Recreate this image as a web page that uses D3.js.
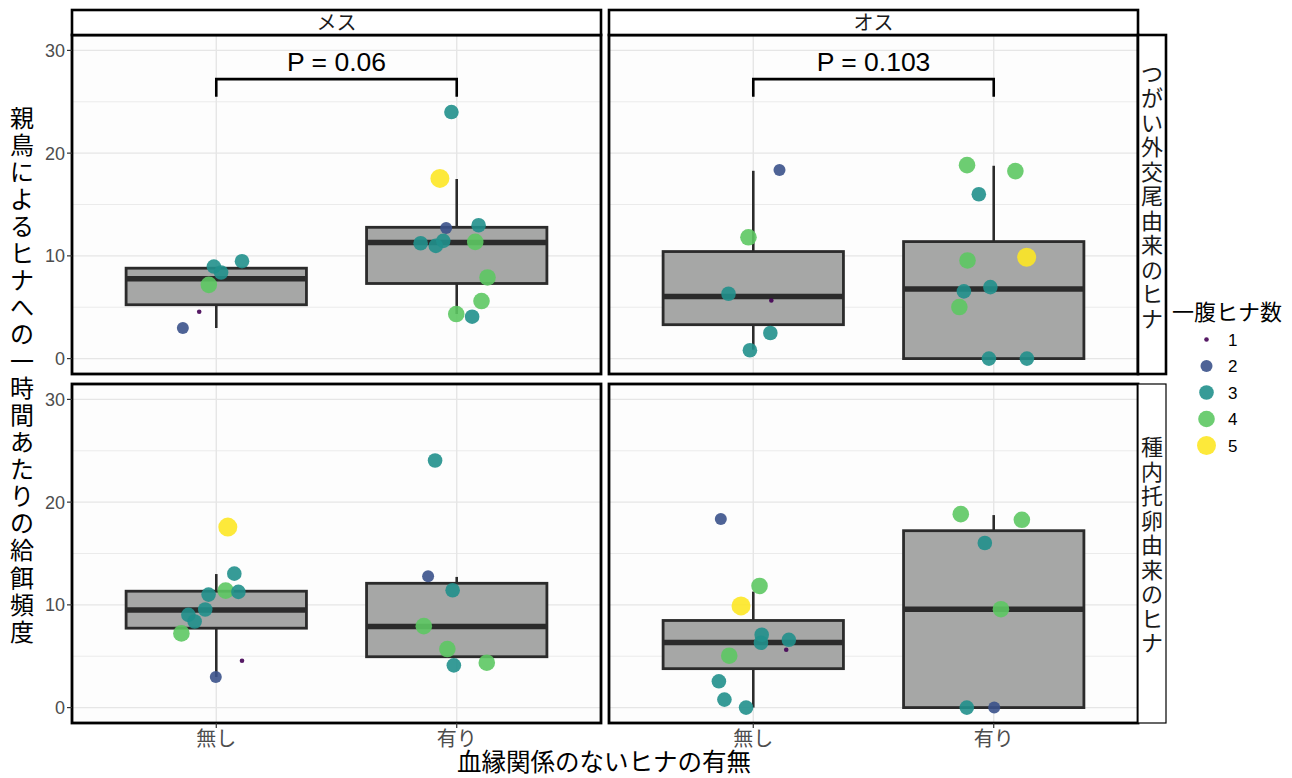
<!DOCTYPE html>
<html>
<head>
<meta charset="utf-8">
<script src="https://cdn.jsdelivr.net/npm/d3@7"></script>
<style>
  html, body { margin: 0; padding: 0; background: #ffffff; }
  svg { display: block; }
  text { font-family: "Liberation Sans", "Noto Sans CJK JP", sans-serif; }
  .jp { font-family: "Noto Sans CJK JP", "Liberation Sans", sans-serif; }
</style>
</head>
<body>
<div id="chart"></div>
<script>
// columns / rows of the facet grid
const sexes = ["メス", "オス"];
const origins = ["つがい外交尾由来のヒナ", "種内托卵由来のヒナ"];
const groups = ["無し", "有り"];
const yTicks = [0, 10, 20, 30];
const yMinor = [5, 15, 25];
const broodSizes = [1, 2, 3, 4, 5];
const pLabels = ["P = 0.06", "P = 0.103"];

// box stats per panel: [group, lower, q1, median, q3, upper]
const boxFemaleEpc = [["無し", 2.98, 5.24, 7.77, 8.8, 8.8], ["有り", 4.34, 7.31, 11.3, 12.78, 17.48]];
const boxMaleEpc = [["無し", 0.87, 3.3, 6.05, 10.42, 18.28], ["有り", 0, 0, 6.77, 11.39, 18.77]];
const boxFemaleCbp = [["無し", 2.98, 7.73, 9.51, 11.33, 13.0], ["有り", 4.95, 4.95, 7.9, 12.1, 12.72]];
const boxMaleCbp = [["無し", 0, 3.79, 6.34, 8.48, 11.29], ["有り", 0, 0, 9.58, 17.22, 18.74]];

// points per panel: [group, jitter (category units), feeding rate, brood size]
const ptsFemaleEpc = [
  ["無し", -0.01, 8.96, 3], ["無し", 0.02, 8.38, 3], ["無し", 0.107, 9.48, 3], ["無し", -0.031, 7.18, 4],
  ["無し", -0.071, 4.56, 1], ["無し", -0.139, 2.98, 2],
  ["有り", -0.022, 24.0, 3], ["有り", -0.07, 17.54, 5], ["有り", -0.044, 12.72, 2], ["有り", 0.091, 12.98, 3],
  ["有り", -0.15, 11.23, 3], ["有り", -0.087, 10.97, 3], ["有り", -0.056, 11.46, 3], ["有り", 0.077, 11.36, 4],
  ["有り", 0.128, 7.9, 4], ["有り", 0.103, 5.6, 4], ["有り", -0.002, 4.34, 4], ["有り", 0.064, 4.08, 3]
];
const ptsMaleEpc = [
  ["無し", 0.109, 18.35, 2], ["無し", -0.02, 11.81, 4], ["無し", -0.103, 6.31, 3], ["無し", 0.075, 5.66, 1],
  ["無し", 0.071, 2.49, 3], ["無し", -0.014, 0.81, 3],
  ["有り", -0.111, 18.83, 4], ["有り", 0.09, 18.25, 4], ["有り", -0.062, 16.0, 3], ["有り", 0.137, 9.87, 5],
  ["有り", -0.109, 9.55, 4], ["有り", -0.014, 6.96, 3], ["有り", -0.124, 6.54, 3], ["有り", -0.143, 5.02, 4],
  ["有り", -0.02, 0, 3], ["有り", 0.138, 0, 3]
];
const ptsFemaleCbp = [
  ["無し", 0.048, 17.57, 5], ["無し", 0.075, 13.04, 3], ["無し", 0.039, 11.39, 4], ["無し", 0.092, 11.26, 3],
  ["無し", -0.032, 11.0, 3], ["無し", -0.046, 9.55, 3], ["無し", -0.116, 9.03, 3], ["無し", -0.09, 8.38, 3],
  ["無し", -0.145, 7.22, 4], ["無し", 0.107, 4.56, 1], ["無し", -0.002, 2.98, 2],
  ["有り", -0.09, 24.05, 3], ["有り", -0.119, 12.78, 2], ["有り", -0.017, 11.42, 3], ["有り", -0.137, 7.93, 4],
  ["有り", -0.039, 5.7, 4], ["有り", -0.012, 4.11, 3], ["有り", 0.125, 4.37, 4]
];
const ptsMaleCbp = [
  ["無し", -0.135, 18.35, 2], ["無し", 0.026, 11.84, 4], ["無し", -0.051, 9.9, 5], ["無し", 0.035, 7.09, 3],
  ["無し", 0.032, 6.31, 3], ["無し", 0.148, 6.6, 3], ["無し", 0.137, 5.63, 1], ["無し", -0.1, 5.05, 4],
  ["無し", -0.143, 2.56, 3], ["無し", -0.12, 0.78, 3], ["無し", -0.03, 0, 3],
  ["有り", -0.137, 18.83, 4], ["有り", 0.117, 18.28, 4], ["有り", -0.037, 16.02, 3], ["有り", 0.03, 9.58, 4],
  ["有り", -0.112, 0, 3], ["有り", 0.002, 0, 2]
];

const panels = [
  { col: 0, row: 0, box: boxFemaleEpc, pts: ptsFemaleEpc, p: pLabels[0] },
  { col: 1, row: 0, box: boxMaleEpc, pts: ptsMaleEpc, p: pLabels[1] },
  { col: 0, row: 1, box: boxFemaleCbp, pts: ptsFemaleCbp, p: null },
  { col: 1, row: 1, box: boxMaleCbp, pts: ptsMaleCbp, p: null }
];

const width = 1292, height = 778;
const colX = [72, 609];
const rowY = [35, 384];
const panelW = 529, panelH = 339;

const color = d3.scaleOrdinal().domain(broodSizes)
  .range(["#440154", "#3B528B", "#21908C", "#5DC863", "#FDE725"]);
const radius = d3.scaleOrdinal().domain(broodSizes).range([2.3, 6, 7.3, 8.3, 9.5]);

const svg = d3.select("#chart").append("svg")
  .attr("width", width).attr("height", height);

const xPos = d3.scaleLinear().domain([0.4, 2.6]).range([0, panelW]);
const xIdx = g => groups.indexOf(g) + 1;
const y = d3.scaleLinear().domain([-1.5, 31.5]).range([panelH, 0]);

// vertical label: one upright character per line
function verticalText(x, yCenter, str, size, step, fill) {
  const chars = Array.from(str);
  const start = yCenter - (chars.length - 1) * step / 2;
  const t = svg.append("text").attr("class", "jp")
    .attr("text-anchor", "middle").attr("font-size", size).attr("fill", fill);
  t.selectAll("tspan").data(chars).enter().append("tspan")
    .attr("x", x).attr("y", (d, k) => start + k * step).attr("dy", "0.36em")
    .text(d => d);
}

panels.forEach(pn => {
  const g = svg.append("g")
    .attr("transform", `translate(${colX[pn.col]},${rowY[pn.row]})`);

  g.append("rect").attr("width", panelW).attr("height", panelH).attr("fill", "#fdfdfd");

  g.selectAll(".minor").data(yMinor).enter().append("line")
    .attr("x1", 0).attr("x2", panelW)
    .attr("y1", d => y(d)).attr("y2", d => y(d))
    .attr("stroke", "#ebebeb").attr("stroke-width", 1);
  g.selectAll(".major").data(yTicks).enter().append("line")
    .attr("x1", 0).attr("x2", panelW)
    .attr("y1", d => y(d)).attr("y2", d => y(d))
    .attr("stroke", "#e6e6e6").attr("stroke-width", 1.4);
  g.selectAll(".vgrid").data(groups).enter().append("line")
    .attr("x1", d => xPos(xIdx(d))).attr("x2", d => xPos(xIdx(d)))
    .attr("y1", 0).attr("y2", panelH)
    .attr("stroke", "#e6e6e6").attr("stroke-width", 1.4);

  // boxplots
  const bw = 0.75 / 2;
  pn.box.forEach(([grp, lo, q1, med, q3, hi]) => {
    const cx = xPos(xIdx(grp));
    g.append("line").attr("x1", cx).attr("x2", cx).attr("y1", y(hi)).attr("y2", y(q3))
      .attr("stroke", "#2b2b2b").attr("stroke-width", 2.6);
    g.append("line").attr("x1", cx).attr("x2", cx).attr("y1", y(q1)).attr("y2", y(lo))
      .attr("stroke", "#2b2b2b").attr("stroke-width", 2.6);
    g.append("rect")
      .attr("x", xPos(xIdx(grp) - bw)).attr("width", xPos(xIdx(grp) + bw) - xPos(xIdx(grp) - bw))
      .attr("y", y(q3)).attr("height", y(q1) - y(q3))
      .attr("fill", "#a6a7a6").attr("stroke", "#2b2b2b").attr("stroke-width", 2.8);
    g.append("line")
      .attr("x1", xPos(xIdx(grp) - bw)).attr("x2", xPos(xIdx(grp) + bw))
      .attr("y1", y(med)).attr("y2", y(med))
      .attr("stroke", "#2b2b2b").attr("stroke-width", 5.5);
  });

  // jittered points
  g.selectAll(".pt").data(pn.pts).enter().append("circle")
    .attr("cx", d => xPos(xIdx(d[0]) + d[1]))
    .attr("cy", d => y(d[2]))
    .attr("r", d => radius(d[3]))
    .attr("fill", d => color(d[3]))
    .attr("fill-opacity", 0.9);

  // significance bracket
  if (pn.p) {
    const x1 = xPos(1), x2 = xPos(2);
    g.append("path")
      .attr("d", `M${x1},${y(25.5)}V${y(27.2)}H${x2}V${y(25.5)}`)
      .attr("fill", "none").attr("stroke", "#000").attr("stroke-width", 2.6);
    g.append("text")
      .attr("x", (x1 + x2) / 2).attr("y", y(28))
      .attr("text-anchor", "middle")
      .attr("font-size", 26.5).attr("fill", "#000")
      .text(pn.p);
  }

  g.append("rect").attr("width", panelW).attr("height", panelH)
    .attr("fill", "none").attr("stroke", "#000").attr("stroke-width", 2.8);

  // y axis, left column only
  if (pn.col === 0) {
    const ya = g.selectAll(".yt").data(yTicks).enter().append("g");
    ya.append("line").attr("x1", -5).attr("x2", 0).attr("y1", d => y(d)).attr("y2", d => y(d))
      .attr("stroke", "#333").attr("stroke-width", 1.2);
    ya.append("text").attr("x", -7).attr("y", d => y(d)).attr("dy", "0.36em")
      .attr("text-anchor", "end").attr("font-size", 18).attr("fill", "#4d4d4d")
      .text(d => d);
  }

  // x axis on bottom row
  if (pn.row === 1) {
    const xa = g.selectAll(".xt").data(groups).enter().append("g");
    xa.append("line").attr("x1", d => xPos(xIdx(d))).attr("x2", d => xPos(xIdx(d)))
      .attr("y1", panelH).attr("y2", panelH + 5)
      .attr("stroke", "#333").attr("stroke-width", 1.2);
    xa.append("text").attr("class", "jp")
      .attr("x", d => xPos(xIdx(d))).attr("y", panelH + 16).attr("dy", "0.36em")
      .attr("text-anchor", "middle").attr("font-size", 20).attr("fill", "#4d4d4d")
      .text(d => d);
  }
});

// column strips
sexes.forEach((s, i) => {
  svg.append("rect").attr("x", colX[i]).attr("y", 10).attr("width", panelW).attr("height", 25)
    .attr("fill", "#fff").attr("stroke", "#000").attr("stroke-width", 2.6);
  svg.append("text").attr("class", "jp")
    .attr("x", colX[i] + panelW / 2).attr("y", 22.5).attr("dy", "0.36em")
    .attr("text-anchor", "middle").attr("font-size", 20).attr("fill", "#1a1a1a")
    .text(s);
});

// row strips
origins.forEach((o, i) => {
  svg.append("rect").attr("x", colX[1] + panelW).attr("y", rowY[i]).attr("width", 28).attr("height", panelH)
    .attr("fill", "#fff").attr("stroke", "#000").attr("stroke-width", i === 0 ? 2.6 : 1.2);
  verticalText(colX[1] + panelW + 14, rowY[i] + panelH / 2 - 8, o, 22, 24.5, "#1a1a1a");
});

// y axis title
verticalText(22, 375, "親鳥によるヒナへの一時間あたりの給餌頻度", 24, 27.05, "#000");

// x axis title
svg.append("text").attr("class", "jp")
  .attr("x", 604).attr("y", 763).attr("dy", "0.34em")
  .attr("text-anchor", "middle").attr("font-size", 24.5).attr("fill", "#000")
  .text("血縁関係のないヒナの有無");

// legend
const lg = svg.append("g").attr("transform", "translate(1172,0)");
lg.append("text").attr("class", "jp").attr("x", 0).attr("y", 312).attr("dy", "0.36em")
  .attr("font-size", 22).attr("fill", "#000").text("一腹ヒナ数");
const legY = d3.scalePoint().domain(broodSizes).range([339.5, 445.5]);
const items = lg.selectAll(".li").data(broodSizes).enter().append("g");
items.append("circle").attr("cx", 34.5).attr("cy", d => legY(d))
  .attr("r", d => radius(d)).attr("fill", d => color(d)).attr("fill-opacity", 0.9);
items.append("text").attr("x", 56).attr("y", d => legY(d)).attr("dy", "0.36em")
  .attr("font-size", 17).attr("fill", "#000").text(d => d);
</script>
</body>
</html>
